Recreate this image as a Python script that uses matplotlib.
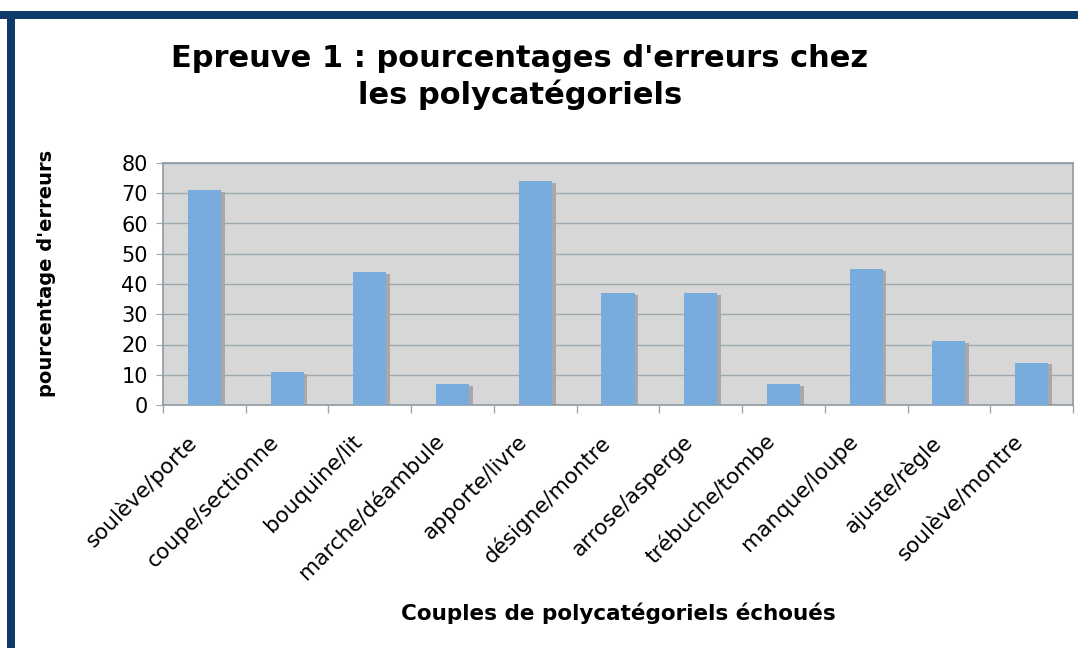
import numpy as np
import matplotlib
matplotlib.use("Agg")
import matplotlib.pyplot as plt
from matplotlib.patches import Rectangle

# data
categories = ["soulève/porte", "coupe/sectionne", "bouquine/lit", "marche/déambule",
              "apporte/livre", "désigne/montre", "arrose/asperge", "trébuche/tombe",
              "manque/loupe", "ajuste/règle", "soulève/montre"]
errors = [71, 11, 44, 7, 74, 37, 37, 7, 45, 21, 14]
yticks = [0, 10, 20, 30, 40, 50, 60, 70, 80]

W, H = 1078, 648
fig = plt.figure(figsize=(W / 100, H / 100), dpi=100)
fig.patch.set_facecolor("white")

# navy frame on top and left
navy = "#0f3b6a"
fig.add_artist(Rectangle((0, 1 - 19 / H), 1, 8 / H, transform=fig.transFigure,
                         color=navy, lw=0))
fig.add_artist(Rectangle((7 / W, 0), 8 / W, 1 - 11 / H, transform=fig.transFigure,
                         color=navy, lw=0))

ax = fig.add_axes([163 / W, 1 - 405 / H, (1073 - 163) / W, (405 - 163) / H])
ax.set_facecolor("#d7d7d7")

x = np.arange(len(categories))
bw = 0.4
# drop shadow behind each bar
ax.bar(x + 0.045, np.array(errors) - 0.6, width=bw, bottom=0, color="#a8a8a8",
       zorder=2, lw=0)
ax.bar(x, errors, width=bw, color="#77acdc", zorder=3, lw=0)

ax.set_xlim(-0.5, len(categories) - 0.5)
ax.set_ylim(0, 80)
ax.set_yticks(yticks)
ax.yaxis.grid(True, color="#9ca8b0", lw=1.0, zorder=1)
ax.set_axisbelow(True)
for s in ax.spines.values():
    s.set_color("#8e9aa3")
    s.set_linewidth(1.2)

# labels sit a little left of the category centre, like the original
ax.set_xticks(x - 0.22)
ax.set_xticklabels(categories, rotation=45, ha="right", va="top",
                   rotation_mode="anchor", fontsize=15.5)
ax.set_xticks(np.arange(len(categories) + 1) - 0.5, minor=True)
ax.tick_params(axis="x", which="major", length=0, pad=19)
ax.tick_params(axis="x", which="minor", length=6, color="#9ca8b0", width=1)
ax.tick_params(axis="y", length=5, color="#9ca8b0", labelsize=15, pad=6)

fig.text(47 / W, 1 - 273 / H, "pourcentage d'erreurs", rotation=90, ha="center",
         va="center", fontsize=14, fontweight="bold")
fig.text(618 / W, 1 - 613 / H, "Couples de polycatégoriels échoués", ha="center",
         va="center", fontsize=15.5, fontweight="bold")
fig.text(520 / W, 1 - 77 / H, "Epreuve 1 : pourcentages d'erreurs chez\nles polycatégoriels",
         ha="center", va="center", fontsize=22, fontweight="bold", linespacing=1.25)

fig.savefig("out.png", dpi=100)
